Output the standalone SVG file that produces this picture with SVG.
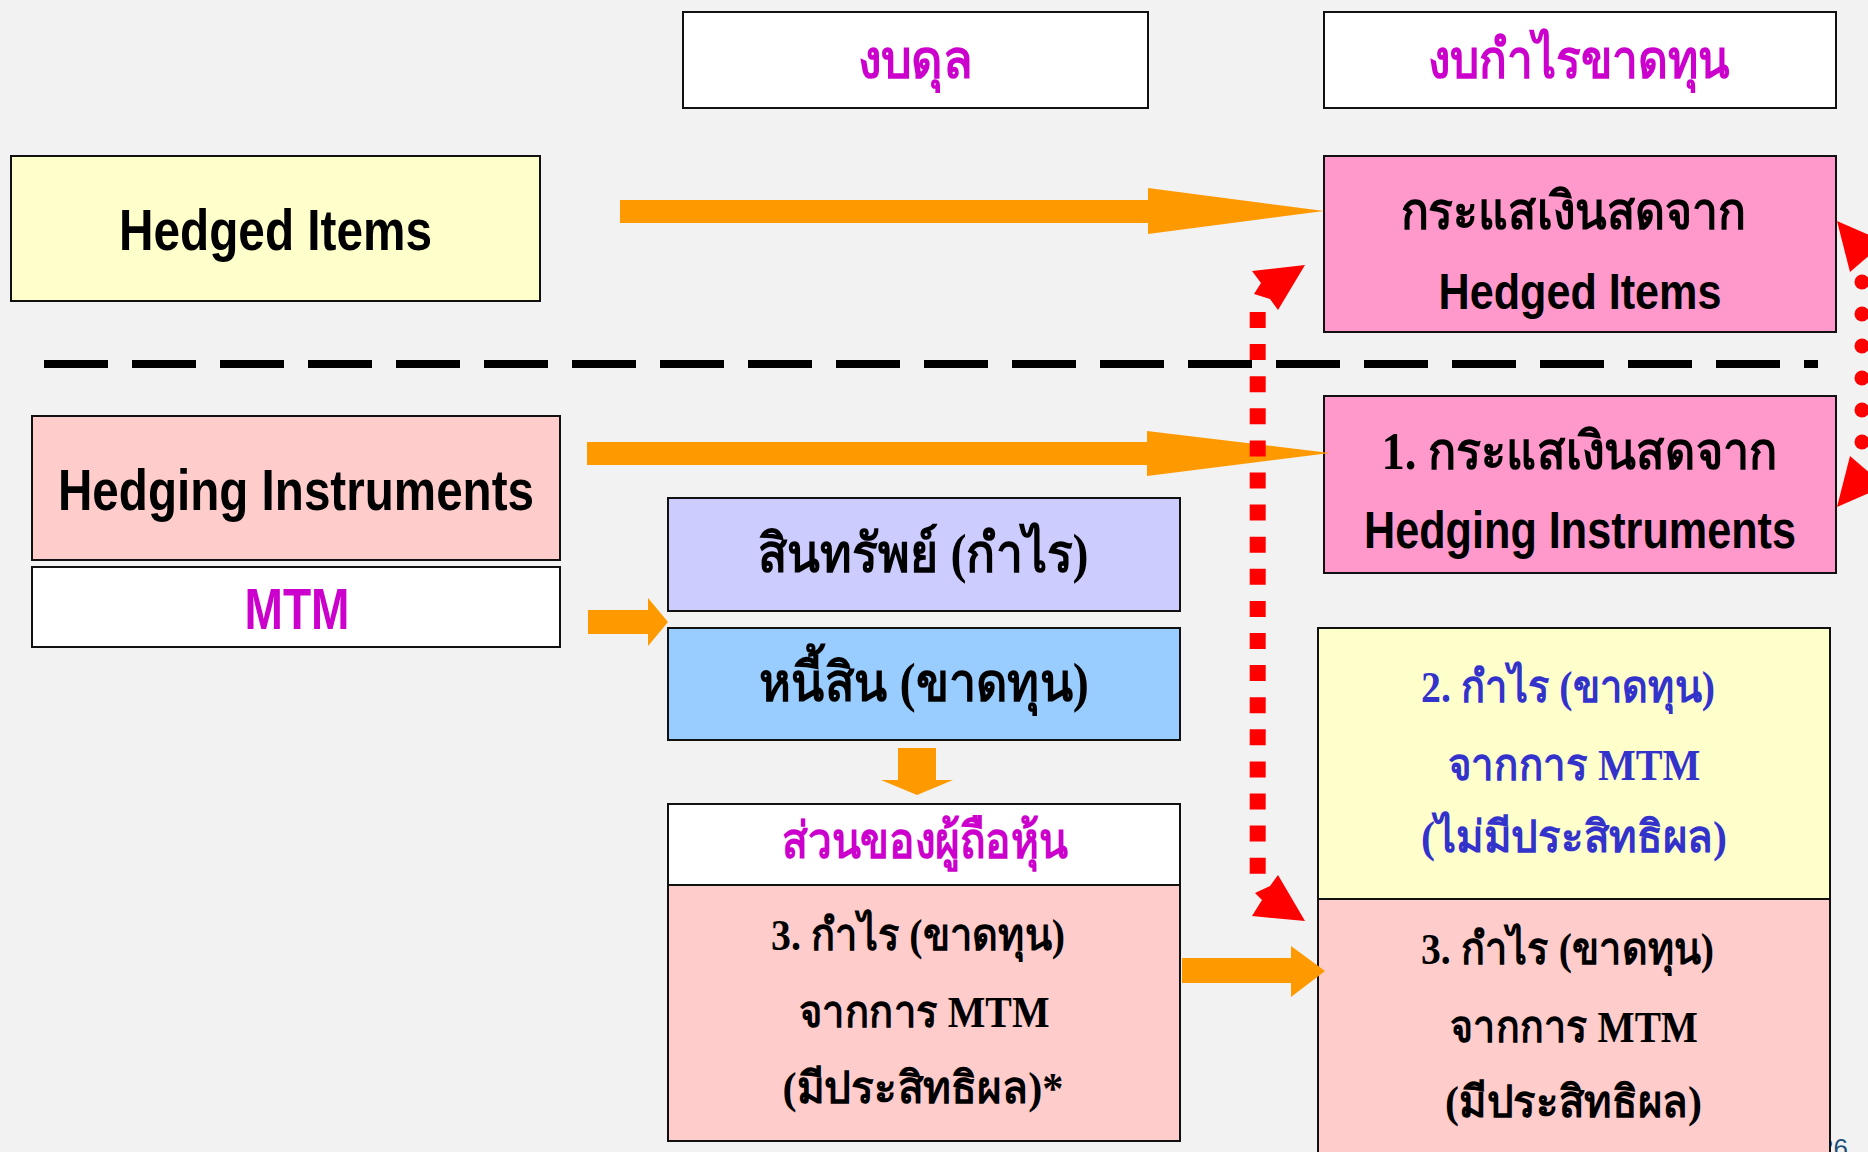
<svg xmlns="http://www.w3.org/2000/svg" width="1868" height="1152" viewBox="0 0 1868 1152">
  <style>
    .box { stroke: #111; stroke-width: 2; }
    .en { font-family: "Liberation Sans Narrow", "Liberation Sans", Arial, sans-serif; font-weight: bold; fill: #000; text-anchor: middle; }
    .th { font-family: "Noto Sans", "DejaVu Sans", sans-serif; font-weight: bold; text-anchor: middle; }
    .ths { font-family: "Liberation Serif", "Noto Sans", serif; font-weight: bold; text-anchor: middle; }
    .mag { fill: #CC00CC; }
    .blk { fill: #000; }
    .blu { fill: #3333CC; }
    .orange { fill: #FF9900; }
    .red { fill: #FF0000; }
  </style>

  <rect x="0" y="0" width="1868" height="1152" fill="#F2F2F2"/>

  <!-- slide number, partly covered by the last box -->
  <text x="1848" y="1157" font-family="Liberation Sans, sans-serif" font-size="26" fill="#1F4E79" text-anchor="end">26</text>

  <!-- column headers -->
  <g id="hdr-balance">
    <rect class="box" x="683" y="12" width="465" height="96" fill="#FFFFFF"/>
    <text class="th mag" x="915" y="78" font-size="54" textLength="115" lengthAdjust="spacingAndGlyphs">งบดุล</text>
  </g>
  <g id="hdr-income">
    <rect class="box" x="1324" y="12" width="512" height="96" fill="#FFFFFF"/>
    <text class="th mag" x="1579" y="78" font-size="54" textLength="302" lengthAdjust="spacingAndGlyphs">งบกำไรขาดทุน</text>
  </g>

  <!-- hedged items row -->
  <g id="hedged-items">
    <rect class="box" x="11" y="156" width="529" height="145" fill="#FFFFCC"/>
    <text class="en" x="275.5" y="250" font-size="58" textLength="313" lengthAdjust="spacingAndGlyphs">Hedged Items</text>
  </g>
  <g id="cf-hedged">
    <rect class="box" x="1324" y="156" width="512" height="176" fill="#FF99CC"/>
    <text class="th blk" x="1573" y="229" font-size="52" textLength="345" lengthAdjust="spacingAndGlyphs">กระแสเงินสดจาก</text>
    <text class="en" x="1580" y="309" font-size="50" textLength="283" lengthAdjust="spacingAndGlyphs">Hedged Items</text>
  </g>

  <!-- hedging instruments row -->
  <g id="hedging-instruments">
    <rect class="box" x="32" y="416" width="528" height="144" fill="#FFCCCC"/>
    <text class="en" x="296" y="510" font-size="57" textLength="476" lengthAdjust="spacingAndGlyphs">Hedging Instruments</text>
  </g>
  <g id="mtm">
    <rect class="box" x="32" y="567" width="528" height="80" fill="#FFFFFF"/>
    <text class="en" x="297" y="629" font-size="57" textLength="105" lengthAdjust="spacingAndGlyphs" style="fill:#CC00CC">MTM</text>
  </g>
  <g id="cf-hedging">
    <rect class="box" x="1324" y="396" width="512" height="177" fill="#FF99CC"/>
    <text class="ths blk" x="1579" y="469" font-size="52" textLength="395" lengthAdjust="spacingAndGlyphs">1. กระแสเงินสดจาก</text>
    <text class="en" x="1580" y="548" font-size="51" textLength="432" lengthAdjust="spacingAndGlyphs">Hedging Instruments</text>
  </g>

  <!-- balance sheet column -->
  <g id="asset">
    <rect class="box" x="668" y="498" width="512" height="113" fill="#CCCCFF"/>
    <text class="ths blk" x="923" y="572" font-size="54" textLength="331" lengthAdjust="spacingAndGlyphs">สินทรัพย์ (กำไร)</text>
  </g>
  <g id="liability">
    <rect class="box" x="668" y="628" width="512" height="112" fill="#99CCFF"/>
    <text class="ths blk" x="924" y="701" font-size="54" textLength="330" lengthAdjust="spacingAndGlyphs">หนี้สิน (ขาดทุน)</text>
  </g>
  <g id="equity-header">
    <rect class="box" x="668" y="804" width="512" height="81" fill="#FFFFFF"/>
    <text class="th mag" x="924.5" y="858" font-size="50" textLength="286" lengthAdjust="spacingAndGlyphs">ส่วนของผู้ถือหุ้น</text>
  </g>
  <g id="equity-effective">
    <rect class="box" x="668" y="885" width="512" height="256" fill="#FFCCCC"/>
    <text class="ths blk" x="918" y="950" font-size="44" textLength="294" lengthAdjust="spacingAndGlyphs">3. กำไร (ขาดทุน)</text>
    <text class="ths blk" x="924" y="1027" font-size="44" textLength="251" lengthAdjust="spacingAndGlyphs">จากการ MTM</text>
    <text class="ths blk" x="923" y="1103" font-size="44" textLength="281" lengthAdjust="spacingAndGlyphs">(มีประสิทธิผล)*</text>
  </g>

  <!-- income statement column -->
  <g id="pl-ineffective">
    <rect class="box" x="1318" y="628" width="512" height="271" fill="#FFFFCC"/>
    <text class="ths blu" x="1568" y="702" font-size="44" textLength="294" lengthAdjust="spacingAndGlyphs">2. กำไร (ขาดทุน)</text>
    <text class="ths blu" x="1574" y="780" font-size="44" textLength="253" lengthAdjust="spacingAndGlyphs">จากการ MTM</text>
    <text class="ths blu" x="1574" y="852" font-size="44" textLength="306" lengthAdjust="spacingAndGlyphs">(ไม่มีประสิทธิผล)</text>
  </g>
  <g id="pl-effective">
    <rect class="box" x="1318" y="899" width="512" height="270" fill="#FFCCCC"/>
    <text class="ths blk" x="1567.5" y="964" font-size="44" textLength="293" lengthAdjust="spacingAndGlyphs">3. กำไร (ขาดทุน)</text>
    <text class="ths blk" x="1574" y="1042" font-size="44" textLength="248" lengthAdjust="spacingAndGlyphs">จากการ MTM</text>
    <text class="ths blk" x="1573.5" y="1117" font-size="44" textLength="257" lengthAdjust="spacingAndGlyphs">(มีประสิทธิผล)</text>
  </g>

  <!-- connectors -->
  <g id="connectors">
    <!-- separator between hedged items and hedging instruments -->
    <line x1="44" y1="364" x2="1818" y2="364" stroke="#000" stroke-width="8" stroke-dasharray="64 24"/>

    <!-- block arrows -->
    <polygon class="orange" points="620,200 1148,200 1148,188 1324,211 1148,234 1148,223 620,223"/>
    <polygon class="orange" points="587,442 1147,442 1147,431 1330,453 1147,476 1147,465 587,465"/>
    <polygon class="orange" points="588,610 648,610 648,598 668,622 648,646 648,634 588,634"/>
    <polygon class="orange" points="898,748 936,748 936,780 953,780 917,795 881,780 898,780"/>
    <polygon class="orange" points="1182,958 1291,958 1291,946 1325,971 1291,997 1291,983 1182,983"/>

    <!-- recycling from equity to profit or loss (dotted, both ends) -->
    <line x1="1257.7" y1="312" x2="1257.7" y2="874" stroke="#FF0000" stroke-width="16" stroke-dasharray="16 16.1"/>
    <polygon class="red" points="1305,265 1252,271 1261,283 1254,294 1270,299 1278,310"/>
    <polygon class="red" points="1305,921 1252,916 1262,900 1255,893 1270,886 1278,875"/>

    <!-- offset between the two cash flows (dotted arc on the right) -->
    <g class="red">
      <circle cx="1862" cy="282" r="7.5"/>
      <circle cx="1862" cy="314" r="7.5"/>
      <circle cx="1862" cy="346" r="7.5"/>
      <circle cx="1862" cy="378" r="7.5"/>
      <circle cx="1862" cy="410" r="7.5"/>
      <circle cx="1862" cy="442" r="7.5"/>
    </g>
    <polygon class="red" points="1837,221 1885,242 1850,272"/>
    <polygon class="red" points="1837,507 1850,456 1885,486"/>
  </g>
</svg>
